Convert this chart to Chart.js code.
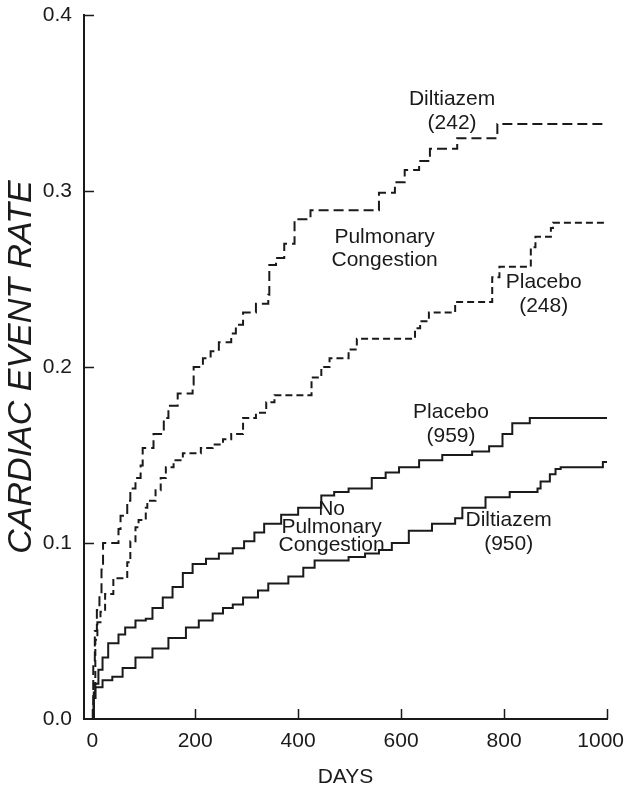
<!DOCTYPE html>
<html>
<head>
<meta charset="utf-8">
<style>
  html, body { margin: 0; padding: 0; background: #fff; }
  #wrap { width: 626px; height: 795px; }
</style>
<script src="https://cdn.jsdelivr.net/npm/chart.js@4.4.1/dist/chart.umd.min.js"></script>
</head>
<body>
<div id="wrap"><canvas id="c" width="626" height="795"></canvas></div>
<script>
// Axis ticks
const dayTicks = [0, 200, 400, 600, 800, 1000];
const dayTickLabels = ['0', '200', '400', '600', '800', '1000'];
const rateTicks = [0, 0.1, 0.2, 0.3, 0.4];
const rateTickLabels = ['0.0', '0.1', '0.2', '0.3', '0.4'];

// Kaplan-Meier curves: each day is where the cumulative event rate steps up to the listed value.
// Pulmonary congestion, diltiazem (n = 242)
const diltPcDays  = [0, 2, 5, 9, 14, 18, 21, 51, 55, 68, 74, 84, 94, 98, 119, 139, 148, 166, 195, 197,
                     215, 230, 246, 270, 279, 293, 318, 342, 344, 357, 373, 393, 424, 557, 588, 607, 635, 656,
                     709, 787, 1000];
const diltPcRates = [0, 0.03, 0.05, 0.062, 0.07, 0.085, 0.1, 0.108, 0.1155, 0.124, 0.131, 0.137, 0.144, 0.154,
                     0.162, 0.171, 0.178, 0.185, 0.19, 0.2, 0.205, 0.209, 0.214, 0.219, 0.224, 0.231, 0.236,
                     0.241, 0.258, 0.262, 0.27, 0.284, 0.289, 0.299, 0.305, 0.312, 0.317, 0.324, 0.33, 0.338, 0.338];

// Pulmonary congestion, placebo (n = 248)
const placPcDays  = [0, 3, 6, 10, 16, 25, 41, 68, 74, 84, 90, 104, 107, 123, 133, 143, 158, 176, 211, 234, 254,
                     270, 293, 318, 338, 354, 426, 445, 461, 498, 514, 627, 637, 654, 705, 777, 791, 852, 861,
                     891, 895, 1000];
const placPcRates = [0, 0.02, 0.045, 0.055, 0.061, 0.071, 0.08, 0.089, 0.101, 0.109, 0.113, 0.12, 0.124, 0.13,
                     0.137, 0.143, 0.147, 0.151, 0.154, 0.156, 0.159, 0.162, 0.171, 0.174, 0.18, 0.184, 0.194,
                     0.2, 0.205, 0.21, 0.216, 0.222, 0.226, 0.231, 0.237, 0.251, 0.257, 0.268, 0.274, 0.279,
                     0.282, 0.282];

// No pulmonary congestion, placebo (n = 959)
const placNoDays  = [0, 3, 6, 12, 20, 31, 51, 64, 84, 104, 117, 137, 156, 176, 195, 221, 246, 273, 295, 315,
                     334, 367, 400, 445, 470, 498, 543, 570, 596, 635, 680, 738, 771, 797, 816, 850, 1000];
const placNoRates = [0, 0.012, 0.02, 0.028, 0.035, 0.043, 0.048, 0.052, 0.056, 0.057, 0.063, 0.069, 0.075,
                     0.083, 0.088, 0.091, 0.094, 0.097, 0.101, 0.106, 0.111, 0.116, 0.12, 0.127, 0.129, 0.131,
                     0.137, 0.14, 0.143, 0.147, 0.15, 0.152, 0.155, 0.162, 0.168, 0.171, 0.171];

// No pulmonary congestion, diltiazem (n = 950)
const diltNoDays  = [0, 3, 6, 20, 39, 59, 84, 117, 148, 182, 207, 234, 254, 273, 293, 322, 342, 381, 410, 432,
                     498, 530, 557, 582, 615, 660, 705, 719, 764, 811, 865, 871, 889, 900, 910, 992, 1000];
const diltNoRates = [0, 0.012, 0.018, 0.022, 0.024, 0.029, 0.035, 0.04, 0.046, 0.052, 0.056, 0.06, 0.063,
                     0.065, 0.069, 0.073, 0.077, 0.081, 0.086, 0.09, 0.092, 0.094, 0.096, 0.1, 0.107, 0.111,
                     0.114, 0.12, 0.126, 0.129, 0.131, 0.135, 0.139, 0.142, 0.143, 0.146, 0.146];

// Curve annotations: text lines anchored at (day, rate) of the first line's baseline
const curveNotes = [
  { lines: ['Diltiazem', '(242)'], day: 699, rate: 0.349, gap: 24 },
  { lines: ['Pulmonary', 'Congestion'], day: 568, rate: 0.2705, gap: 23 },
  { lines: ['Placebo', '(248)'], day: 877, rate: 0.245, gap: 24 },
  { lines: ['Placebo', '(959)'], day: 697, rate: 0.171, gap: 24 },
  { lines: ['No', 'Pulmonary', 'Congestion'], day: 465, rate: 0.116, gap: 18 },
  { lines: ['Diltiazem', '(950)'], day: 809, rate: 0.1097, gap: 24 }
];

const FONT = "'Liberation Sans', Arial, Helvetica, sans-serif";
const INK = '#1a1a1a';

const toPoints = (days, rates) => days.map((d, i) => ({ x: d, y: rates[i] }));

function curve(days, rates, dash) {
  return {
    data: toPoints(days, rates),
    borderColor: INK,
    borderWidth: 2,
    borderDash: dash,
    stepped: 'before',
    pointRadius: 0,
    fill: false
  };
}

// Short tick marks drawn on the inner side of both axes
const innerTicks = {
  id: 'innerTicks',
  afterDraw(chart) {
    const { ctx, chartArea, scales } = chart;
    ctx.save();
    ctx.strokeStyle = INK;
    ctx.lineWidth = 1.5;
    ctx.beginPath();
    rateTicks.forEach(v => {
      if (v === 0) return;
      const y = Math.round(scales.y.getPixelForValue(v)) + 0.5;
      ctx.moveTo(chartArea.left, y);
      ctx.lineTo(chartArea.left + 10, y);
    });
    dayTicks.forEach(v => {
      const x = Math.round(scales.x.getPixelForValue(v)) + 0.5;
      ctx.moveTo(x, chartArea.bottom);
      ctx.lineTo(x, chartArea.bottom - 10);
    });
    ctx.stroke();
    ctx.restore();
  }
};

// Day labels under the axis, kept inside the canvas at the right edge
const dayLabels = {
  id: 'dayLabels',
  afterDraw(chart) {
    const { ctx, chartArea, scales, width } = chart;
    ctx.save();
    ctx.font = `21px ${FONT}`;
    ctx.fillStyle = INK;
    ctx.textAlign = 'center';
    ctx.textBaseline = 'middle';
    dayTicks.forEach((v, i) => {
      const text = dayTickLabels[i];
      const w = ctx.measureText(text).width;
      let x = scales.x.getPixelForValue(v);
      x = Math.min(x, width - 2 - w / 2);
      ctx.fillText(text, x, chartArea.bottom + 22);
    });
    ctx.restore();
  }
};

// Group labels placed beside the curves
const noteLabels = {
  id: 'noteLabels',
  afterDatasetsDraw(chart) {
    const { ctx, scales } = chart;
    ctx.save();
    ctx.font = `21px ${FONT}`;
    ctx.fillStyle = INK;
    ctx.textAlign = 'center';
    ctx.textBaseline = 'alphabetic';
    curveNotes.forEach(n => {
      const x = scales.x.getPixelForValue(n.day);
      const y = scales.y.getPixelForValue(n.rate);
      n.lines.forEach((t, i) => ctx.fillText(t, x, y + i * n.gap));
    });
    ctx.restore();
  }
};

new Chart(document.getElementById('c'), {
  type: 'line',
  data: {
    datasets: [
      curve(diltPcDays, diltPcRates, [10, 5]),
      curve(placPcDays, placPcRates, [7, 4]),
      curve(placNoDays, placNoRates, []),
      curve(diltNoDays, diltNoRates, [])
    ]
  },
  options: {
    responsive: false,
    animation: false,
    devicePixelRatio: 1,
    layout: { padding: { top: 15, right: 19, left: 0, bottom: 0 } },
    plugins: { legend: { display: false }, tooltip: { enabled: false } },
    scales: {
      x: {
        type: 'linear',
        min: -16,
        max: 1000,
        afterBuildTicks: s => { s.ticks = dayTicks.map(v => ({ value: v })); },
        afterFit: s => { s.height = 76; s.paddingLeft = 0; s.paddingRight = 0; },
        grid: { display: false, drawTicks: false },
        border: { display: true, color: INK, width: 2 },
        ticks: { display: false },
        title: {
          display: true, text: 'DAYS', color: INK,
          font: { family: FONT, size: 21 },
          padding: { top: 0, bottom: 5 }
        }
      },
      y: {
        type: 'linear',
        min: 0,
        max: 0.4,
        afterBuildTicks: s => { s.ticks = rateTicks.map(v => ({ value: v })); },
        afterFit: s => { s.width = 84; s.paddingTop = 0; s.paddingBottom = 0; },
        grid: { display: false, drawTicks: false },
        border: { display: true, color: INK, width: 2 },
        ticks: {
          color: INK,
          padding: 12,
          font: { family: FONT, size: 21 },
          callback: (v, i) => rateTickLabels[i]
        },
        title: {
          display: true, text: 'CARDIAC EVENT RATE', color: INK,
          font: { family: FONT, size: 34, style: 'italic' },
          padding: { top: 1, bottom: 0 }
        }
      }
    }
  },
  plugins: [innerTicks, dayLabels, noteLabels]
});
</script>
</body>
</html>
